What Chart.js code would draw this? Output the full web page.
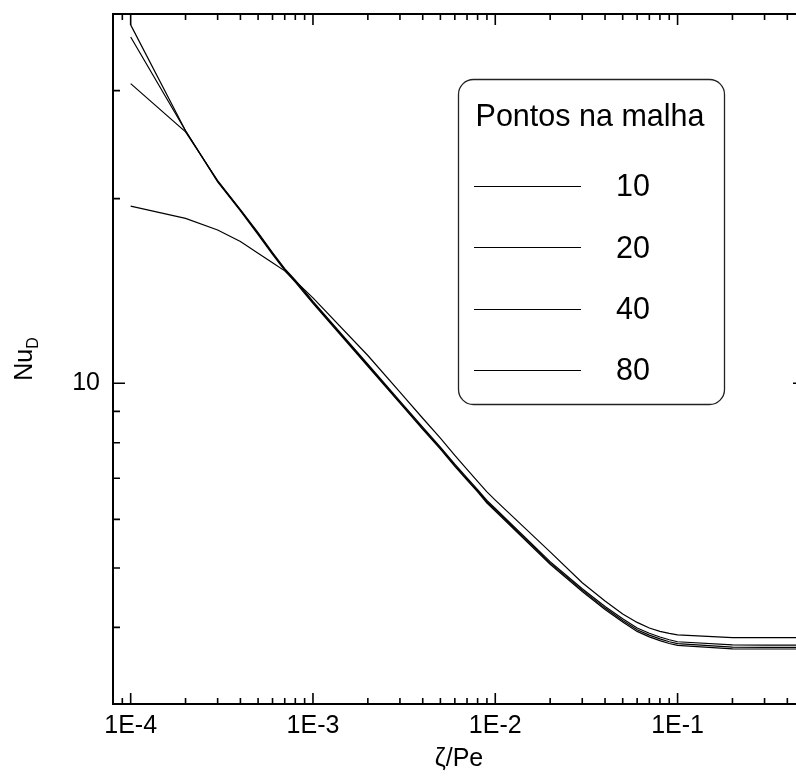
<!DOCTYPE html>
<html>
<head>
<meta charset="utf-8">
<script src="https://cdn.jsdelivr.net/npm/chart.js@4.4.1/dist/chart.umd.min.js"></script>
<style>
    html, body { margin: 0; padding: 0; background: #fff; overflow: hidden; }
    #wrap { width: 796px; height: 776px; overflow: hidden; }
    canvas { display: block; }
</style>
</head>
<body>
<div id="wrap"><canvas id="nu-chart" width="810" height="776"></canvas></div>
<script>
// zeta/Pe where the solution was sampled
var zetaPe = [1e-4, 2e-4, 3e-4, 4e-4, 5e-4, 6e-4, 7e-4, 8e-4, 9e-4,
    1e-3, 2e-3, 3e-3, 4e-3, 5e-3, 6e-3, 7e-3, 8e-3, 9e-3,
    1e-2, 2e-2, 3e-2, 4e-2, 5e-2, 6e-2, 7e-2, 8e-2, 9e-2,
    1e-1, 2e-1, 3e-1, 4e-1, 5e-1];

// Nu_D for each mesh size
var nu10 = [19.45, 18.57, 17.78, 17.03, 16.3, 15.72, 15.25, 14.68, 14.2,
    13.78, 11.10, 9.67, 8.77, 8.14, 7.63, 7.24, 6.92, 6.65,
    6.45, 5.31, 4.73, 4.416, 4.206, 4.075, 3.99, 3.94, 3.91,
    3.888, 3.85, 3.848, 3.848, 3.848];
var nu20 = [30.8, 25.7, 21.4, 19.2, 17.6, 16.34, 15.38, 14.73, 14.13,
    13.6, 10.74, 9.35, 8.48, 7.87, 7.38, 7.01, 6.71, 6.44,
    6.25, 5.12, 4.625, 4.325, 4.13, 3.99, 3.912, 3.858, 3.818,
    3.79, 3.746, 3.743, 3.743, 3.743];
var nu40 = [36.7, 25.8, 21.35, 19.15, 17.54, 16.28, 15.33, 14.68, 14.08,
    13.55, 10.7, 9.31, 8.44, 7.84, 7.35, 6.98, 6.68, 6.41,
    6.22, 5.095, 4.6, 4.3, 4.104, 3.965, 3.885, 3.83, 3.79,
    3.762, 3.713, 3.711, 3.711, 3.711];
var nu80 = [38.4, 25.8, 21.3, 19.1, 17.48, 16.22, 15.28, 14.62, 14.02,
    13.5, 10.66, 9.28, 8.41, 7.81, 7.32, 6.95, 6.65, 6.38,
    6.19, 5.07, 4.576, 4.277, 4.081, 3.94, 3.86, 3.805, 3.765,
    3.738, 3.69, 3.688, 3.688, 3.688];

var meshLabels = ['10', '20', '40', '80'];
var legendTitle = 'Pontos na malha';

var xTickValues = [1e-4, 1e-3, 1e-2, 1e-1];
var xTickLabels = ['1E-4', '1E-3', '1E-2', '1E-1'];
var yTickValues = [10];
var yTickLabels = ['10'];

var fontFamily = '"Liberation Sans", Arial, sans-serif';

function toPoints(values) {
    return zetaPe.map(function (x, i) {
        return {x: x, y: values[i]};
    });
}

// 1..9 x 10^n positions inside the axis range
function logSteps(min, max) {
    var out = [];
    for (var e = Math.floor(Math.log10(min)); e <= Math.ceil(Math.log10(max)); e++) {
        for (var k = 1; k <= 9; k++) {
            var v = k * Math.pow(10, e);
            if (v > min * 1.0001 && v < max * 0.9999) out.push({value: v, major: k === 1});
        }
    }
    return out;
}

var framePlugin = {
    id: 'frame',
    afterDatasetsDraw: function (chart) {
        var ctx = chart.ctx;
        var a = chart.chartArea;
        var xs = chart.scales.x;
        var ys = chart.scales.y;
        ctx.save();
        ctx.strokeStyle = '#000';
        ctx.lineWidth = 2;
        ctx.strokeRect(a.left, a.top, a.right - a.left, a.bottom - a.top);
        ctx.lineWidth = 1.6;
        ctx.beginPath();
        logSteps(xs.min, xs.max).forEach(function (t) {
            var px = xs.getPixelForValue(t.value);
            var len = t.major ? 11 : 6;
            ctx.moveTo(px, a.bottom);
            ctx.lineTo(px, a.bottom - len);
            ctx.moveTo(px, a.top);
            ctx.lineTo(px, a.top + len);
        });
        logSteps(ys.min, ys.max).forEach(function (t) {
            var py = ys.getPixelForValue(t.value);
            var len = t.major ? 12 : 7;
            ctx.moveTo(a.left, py);
            ctx.lineTo(a.left + len, py);
            ctx.moveTo(a.right, py);
            ctx.lineTo(a.right - len, py);
        });
        ctx.stroke();
        ctx.restore();
    }
};

var yTitlePlugin = {
    id: 'yTitle',
    afterDraw: function (chart) {
        var ctx = chart.ctx;
        var a = chart.chartArea;
        var mainFont = '25px ' + fontFamily;
        var subFont = '16px ' + fontFamily;
        ctx.save();
        ctx.font = mainFont;
        var wMain = ctx.measureText('Nu').width;
        ctx.font = subFont;
        var wSub = ctx.measureText('D').width;
        var cy = (a.top + a.bottom) / 2;
        ctx.translate(32, cy + (wMain + wSub) / 2);
        ctx.rotate(-Math.PI / 2);
        ctx.fillStyle = '#000';
        ctx.textBaseline = 'alphabetic';
        ctx.font = mainFont;
        ctx.fillText('Nu', 0, 0);
        ctx.font = subFont;
        ctx.fillText('D', wMain, 6);
        ctx.restore();
    }
};

var boxLegendPlugin = {
    id: 'boxLegend',
    afterDraw: function (chart) {
        var ctx = chart.ctx;
        var left = 458, top = 79, right = 724, bottom = 404, r = 15;
        ctx.save();
        ctx.beginPath();
        ctx.roundRect(left + 0.5, top + 0.5, right - left, bottom - top, r);
        ctx.fillStyle = '#fff';
        ctx.fill();
        ctx.strokeStyle = '#222';
        ctx.lineWidth = 1.3;
        ctx.stroke();

        ctx.fillStyle = '#000';
        ctx.font = '30.5px ' + fontFamily;
        ctx.textAlign = 'center';
        ctx.textBaseline = 'middle';
        ctx.fillText(legendTitle, 590, 118);

        ctx.textAlign = 'left';
        chart.data.datasets.forEach(function (ds, i) {
            var y = 186 + i * 61.3;
            ctx.beginPath();
            ctx.moveTo(474, Math.round(y) + 0.5);
            ctx.lineTo(581, Math.round(y) + 0.5);
            ctx.strokeStyle = ds.borderColor;
            ctx.lineWidth = ds.borderWidth;
            ctx.stroke();
            ctx.fillText(ds.label, 616, y + 2);
        });
        ctx.restore();
    }
};

var series = [nu10, nu20, nu40, nu80];

var chart = new Chart(document.getElementById('nu-chart'), {
    type: 'line',
    data: {
        datasets: series.map(function (s, i) {
            return {
                label: meshLabels[i],
                data: toPoints(s),
                borderColor: '#000',
                borderWidth: 1.2,
                pointRadius: 0,
                tension: 0,
                fill: false
            };
        })
    },
    options: {
        responsive: false,
        animation: false,
        devicePixelRatio: 1,
        layout: {
            autoPadding: false,
            padding: {top: 14, right: 5, left: 0, bottom: 0}
        },
        plugins: {
            legend: {display: false},
            tooltip: {enabled: false}
        },
        scales: {
            x: {
                type: 'logarithmic',
                position: 'bottom',
                min: 8e-5,
                max: 0.5,
                grid: {display: false, drawTicks: false, tickLength: 0},
                border: {display: false},
                afterBuildTicks: function (axis) {
                    axis.ticks = xTickValues.map(function (v) { return {value: v}; });
                },
                afterFit: function (axis) {
                    axis.height = 72;
                    axis.paddingLeft = 0;
                    axis.paddingRight = 0;
                },
                ticks: {
                    autoSkip: false,
                    maxRotation: 0,
                    padding: 7,
                    color: '#000',
                    font: {family: fontFamily, size: 25},
                    callback: function (value) {
                        var i = xTickValues.findIndex(function (v) { return Math.abs(v - value) < v * 1e-6; });
                        return i >= 0 ? xTickLabels[i] : '';
                    }
                },
                title: {
                    display: true,
                    text: 'ζ/Pe',
                    color: '#000',
                    font: {family: fontFamily, size: 25},
                    padding: {top: 0, bottom: 2}
                }
            },
            y: {
                type: 'logarithmic',
                position: 'left',
                min: 3,
                max: 40,
                grid: {display: false, drawTicks: false, tickLength: 0},
                border: {display: false},
                afterBuildTicks: function (axis) {
                    axis.ticks = yTickValues.map(function (v) { return {value: v}; });
                },
                afterFit: function (axis) {
                    axis.width = 113;
                    axis.paddingTop = 0;
                    axis.paddingBottom = 0;
                },
                ticks: {
                    padding: 13,
                    color: '#000',
                    font: {family: fontFamily, size: 25},
                    callback: function (value) {
                        var i = yTickValues.indexOf(value);
                        return i >= 0 ? yTickLabels[i] : '';
                    }
                }
            }
        }
    },
    plugins: [framePlugin, yTitlePlugin, boxLegendPlugin]
});
</script>
</body>
</html>
